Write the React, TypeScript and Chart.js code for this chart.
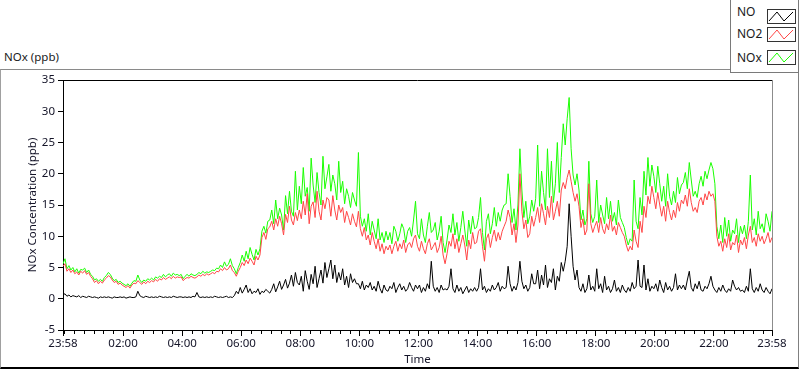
import React, { useEffect, useRef } from 'react';
import { Chart, registerables } from 'chart.js';
Chart.register(...registerables);

// sampling step of the series (minutes after 23:58)
const STEP_MIN = 4;

const xTickMinutes = [0, 122, 242, 362, 482, 602, 722, 842, 962, 1082, 1202, 1322, 1440];
const xTickLabels = ['23:58', '02:00', '04:00', '06:00', '08:00', '10:00', '12:00', '14:00', '16:00', '18:00', '20:00', '22:00', '23:58'];
const minorTickMinutes = [0, 2, 22, 42, 62, 82, 102, 142, 162, 182, 202, 222, 262, 282, 302, 322, 342, 382, 402, 422, 442, 462, 502, 522, 542, 562, 582, 622, 642, 662, 682, 702, 742, 762, 782, 802, 822, 862, 882, 902, 922, 942, 982, 1002, 1022, 1042, 1062, 1102, 1122, 1142, 1162, 1182, 1222, 1242, 1262, 1282, 1302, 1342, 1362, 1382, 1402, 1422];
const yMin = -5;
const yMax = 35;
const yStep = 5;

const seriesNames = ['NO', 'NO2', 'NOx'];

const no2: number[] = [
  5.2,5.6,4.4,4.8,4.2,4.6,4.0,4.3,3.8,4.4,4.1,4.5,3.9,4.2,3.6,
  3.2,2.6,2.9,2.4,2.8,2.5,3.0,3.3,3.7,3.5,3.0,2.6,2.8,2.3,2.5,
  2.2,2.0,1.8,2.1,1.7,2.2,2.5,2.4,2.9,2.6,2.3,2.7,2.4,2.8,2.6,
  2.9,2.7,3.1,2.8,3.2,3.0,3.4,3.1,3.3,3.5,3.2,3.6,3.3,3.5,3.4,
  3.5,2.9,3.2,3.4,3.3,3.6,3.4,3.3,3.5,3.8,3.6,3.9,3.7,4.0,3.8,
  4.0,4.2,4.0,4.4,4.3,4.8,4.5,5.0,4.6,4.8,5.4,4.5,4.2,3.6,4.4,
  5.0,5.8,5.3,6.2,5.6,6.5,6.0,5.4,6.8,6.2,7.0,9.8,10.6,9.5,11.2,
  11.5,12.4,11.0,12.8,11.6,13.2,12.0,10.2,13.5,12.2,14.8,12.6,11.8,13.8,12.5,
  14.2,12.8,15.6,13.4,16.8,12.0,14.8,15.5,13.0,17.2,14.0,12.6,15.8,14.4,16.2,
  15.8,13.2,16.5,14.2,12.6,15.0,13.8,14.6,12.2,14.0,13.0,11.8,13.6,12.4,11.5,
  14.0,11.2,10.0,11.4,9.4,10.2,8.6,10.6,9.2,8.0,9.6,7.6,8.8,7.2,8.4,
  7.8,8.6,7.2,8.4,9.2,7.6,8.8,8.0,9.4,7.4,8.6,9.0,8.2,9.6,10.2,
  8.4,7.6,9.2,8.0,7.2,8.8,9.6,7.8,8.4,9.0,7.4,8.2,10.0,7.0,5.6,
  7.2,9.2,8.4,10.4,8.0,9.6,7.4,8.8,10.2,8.6,6.2,9.4,8.0,10.6,8.8,
  9.0,10.8,11.2,8.4,6.0,9.6,10.4,8.2,9.8,11.0,9.2,10.6,9.4,10.8,11.6,
  12.4,14.2,13.0,10.2,12.0,9.0,11.8,20.0,14.0,11.2,12.6,9.8,10.4,13.2,11.6,
  13.0,14.6,12.2,15.2,13.6,11.8,14.8,13.0,16.4,12.6,14.0,15.6,13.2,17.4,18.6,
  17.6,19.4,20.6,18.8,17.0,15.6,16.8,14.8,11.4,12.8,10.2,11.0,18.4,12.0,10.6,
  11.6,12.4,10.6,13.0,11.2,10.4,12.0,11.0,13.4,10.8,11.6,10.2,12.2,11.4,10.6,
  10.0,8.6,7.6,8.4,7.8,11.0,9.2,8.2,12.4,10.6,14.8,13.0,16.4,15.2,18.0,
  16.2,14.4,17.0,15.0,13.2,14.8,12.4,15.6,13.8,12.6,14.2,13.0,15.4,14.0,15.8,
  15.2,16.6,14.8,17.6,15.4,14.0,14.6,13.8,15.6,16.2,15.0,16.8,15.8,17.2,16.4,
  16.8,15.6,10.0,8.4,9.2,7.6,9.6,8.2,10.4,7.8,9.0,8.6,10.2,7.4,9.4,
  8.6,9.8,8.0,10.2,11.6,9.0,9.8,8.4,10.4,9.2,10.0,8.8,9.6,10.6,9.0,9.8,
];

const nox: number[] = [
  5.6,6.4,4.8,5.3,4.6,5.0,4.3,4.8,4.1,4.7,4.6,4.9,4.2,4.6,3.9,
  3.6,3.0,3.2,2.8,3.1,2.8,3.4,3.7,4.2,3.9,3.3,2.9,3.1,2.6,2.8,
  2.5,2.3,2.1,2.4,2.0,2.5,2.9,2.8,3.8,3.0,2.6,3.0,2.8,3.2,3.0,
  3.3,3.0,3.5,3.3,3.6,3.4,3.9,3.5,3.8,4.0,3.6,4.1,3.8,3.9,3.7,
  3.9,3.2,3.6,3.9,3.6,4.0,3.8,3.7,3.9,4.2,4.0,4.4,4.1,4.3,4.2,
  4.4,4.6,4.5,4.9,4.8,5.4,5.0,5.9,5.2,5.5,6.4,5.3,4.8,4.0,5.0,
  5.8,7.0,6.0,7.6,6.4,8.2,7.1,6.2,7.9,7.0,8.0,10.8,11.6,10.5,12.4,
  12.6,14.2,12.0,15.8,12.8,14.5,13.4,11.0,16.5,13.6,17.2,14.0,13.2,20.4,14.2,
  18.0,15.2,21.0,16.4,17.8,14.0,22.5,18.2,15.4,20.2,17.0,15.0,22.8,17.6,19.5,
  21.5,17.2,19.8,18.4,15.8,22.0,17.0,18.8,15.2,17.6,16.4,14.6,17.0,15.8,14.8,
  23.4,13.2,11.6,12.8,10.8,13.6,10.2,12.4,11.0,9.6,12.8,9.4,10.6,9.0,10.8,
  9.4,10.6,8.8,11.6,10.8,9.2,10.4,12.0,11.2,9.0,10.8,11.4,10.0,12.6,15.6,
  10.4,9.6,12.8,10.2,9.0,11.6,13.8,10.6,11.0,12.2,9.4,10.8,13.2,9.0,7.4,
  9.4,11.8,10.6,13.6,10.2,12.2,9.2,11.4,14.0,11.0,8.4,12.6,10.4,13.2,11.2,
  11.4,13.0,16.2,10.6,7.8,12.4,13.6,10.4,12.0,14.6,11.6,13.8,12.4,14.2,15.0,
  15.2,20.0,16.4,12.2,14.4,11.0,15.0,24.0,17.4,13.0,15.6,12.0,13.2,15.8,14.0,
  16.0,24.6,14.8,20.4,17.0,14.2,24.0,16.2,22.0,15.4,18.4,25.0,17.0,22.6,28.0,
  24.6,28.8,32.2,24.0,19.8,18.2,20.0,17.4,12.6,14.2,11.8,12.8,22.0,13.6,12.2,
  13.2,19.0,12.2,15.0,13.4,12.0,16.2,12.8,15.6,12.4,13.8,11.8,15.8,13.0,12.2,
  11.4,9.8,8.6,9.6,9.2,19.0,12.4,11.2,16.2,13.4,20.4,16.6,22.6,18.0,21.4,
  19.6,17.0,21.2,18.4,15.6,18.0,14.8,20.0,16.4,15.0,17.2,15.4,19.4,16.8,18.2,
  18.6,20.2,17.6,21.8,19.0,16.4,17.2,16.2,18.4,19.6,18.0,20.4,19.2,20.6,21.8,
  20.8,18.4,11.6,9.6,11.8,9.0,13.0,10.0,12.6,9.2,11.0,10.4,12.8,9.0,11.6,
  10.4,11.8,9.6,12.4,19.8,11.0,12.8,10.2,14.0,11.2,12.0,10.6,13.6,12.4,10.8,14.0,
];

const no: number[] = [
  0.6,0.8,0.4,0.6,0.3,0.5,0.4,0.3,0.5,0.2,0.4,0.3,0.2,0.4,0.3,
  0.2,0.3,0.2,0.1,0.3,0.2,0.3,0.2,0.3,0.2,0.1,0.3,0.2,0.2,0.3,
  0.2,0.3,0.1,0.2,0.3,0.2,0.2,0.3,1.2,0.5,0.3,0.2,0.4,0.3,0.2,
  0.3,0.2,0.3,0.2,0.4,0.3,0.2,0.3,0.2,0.3,0.2,0.4,0.3,0.2,0.3,
  0.3,0.2,0.3,0.2,0.3,0.2,0.4,0.3,1.0,0.3,0.2,0.3,0.2,0.3,0.2,
  0.3,0.2,0.4,0.3,0.2,0.3,0.2,0.3,0.4,0.2,0.3,0.2,0.5,1.2,0.8,
  1.8,0.9,1.5,2.2,1.0,1.6,0.8,1.2,1.0,1.6,0.7,1.2,1.0,1.5,1.2,
  0.9,1.5,2.4,1.1,1.9,2.8,1.5,2.2,3.1,1.7,2.5,3.8,2.0,4.2,2.6,
  2.2,3.6,1.2,4.5,2.8,1.5,3.9,2.4,5.2,1.8,3.2,4.6,2.5,5.8,3.4,
  4.8,6.2,3.2,5.4,2.6,4.2,3.0,4.8,2.2,3.6,1.8,4.0,2.6,3.2,2.4,
  2.4,1.6,2.8,1.4,2.2,1.8,2.6,1.4,2.0,1.2,2.8,1.6,0.9,2.2,1.4,
  1.2,2.0,1.6,2.6,1.0,1.8,2.4,1.4,2.0,1.2,1.6,2.6,1.8,1.2,2.2,
  1.6,2.2,1.0,1.8,1.2,2.4,1.6,6.0,2.0,1.2,1.8,1.0,2.2,1.4,1.6,
  1.4,2.0,4.8,1.6,1.0,2.2,1.2,1.8,0.8,1.4,2.0,1.0,1.6,1.2,1.8,
  1.2,1.8,4.8,1.4,2.0,1.0,1.6,1.2,2.2,1.4,1.8,2.6,1.2,2.0,1.6,
  1.8,5.2,2.4,1.2,2.0,1.4,2.6,6.0,2.8,1.6,2.2,1.2,1.8,4.0,2.4,
  2.4,4.6,1.6,3.8,2.2,5.4,1.8,3.2,2.6,4.8,1.4,3.6,2.8,5.8,4.4,
  6.0,8.4,15.2,10.0,5.2,3.0,4.6,1.8,1.2,2.4,1.0,1.6,3.8,1.4,2.0,
  1.2,4.8,1.6,2.4,1.0,3.6,1.4,2.0,1.0,1.6,3.0,1.2,1.8,1.0,2.2,
  1.4,1.0,1.8,1.2,2.6,1.6,2.0,6.2,2.0,1.8,5.4,1.4,3.2,1.2,2.0,
  1.6,2.4,1.2,3.0,1.8,1.0,2.6,1.4,2.0,1.2,1.8,4.0,1.4,2.2,1.6,
  2.2,1.4,3.0,4.4,1.8,1.2,2.4,1.6,2.8,1.4,1.2,2.0,1.6,2.4,3.6,
  2.0,1.4,1.0,1.8,1.2,2.2,1.4,1.0,1.6,1.2,3.0,2.0,1.4,1.8,1.2,
  1.4,1.0,2.0,1.2,4.8,1.6,1.0,1.8,1.2,2.4,1.4,1.0,1.8,1.2,0.8,1.6,
];

const FONT = '"Noto Sans", "DejaVu Sans", sans-serif';
const TEXT = '#141428';

const toPoints = (arr: number[]) => arr.map((v, i) => ({ x: i * STEP_MIN, y: v }));

const framePlugin = {
  id: 'frame',
  afterDraw(chart: any) {
    const { ctx, chartArea } = chart;
    const xs = chart.scales.x;
    ctx.save();
    ctx.lineWidth = 1;
    ctx.strokeStyle = '#000';
    ctx.beginPath();
    ctx.moveTo(chartArea.left, chartArea.top + 0.5);
    ctx.lineTo(chartArea.right, chartArea.top + 0.5);
    ctx.stroke();
    ctx.strokeStyle = '#8c8c8c';
    ctx.beginPath();
    ctx.moveTo(chartArea.right + 0.5, chartArea.top);
    ctx.lineTo(chartArea.right + 0.5, chartArea.bottom);
    ctx.stroke();
    ctx.strokeStyle = '#000';
    ctx.beginPath();
    for (const m of minorTickMinutes) {
      const px = Math.round(xs.getPixelForValue(m)) + 0.5;
      ctx.moveTo(px, chartArea.bottom);
      ctx.lineTo(px, chartArea.bottom + 4);
    }
    ctx.stroke();
    ctx.restore();
  },
};

function LegendSwatch({ color }: { color: string }) {
  return (
    <svg width={29} height={15} style={{ display: 'block' }}>
      <rect x={0.5} y={0.5} width={28} height={14} fill="#fff" stroke="#333" strokeWidth={1} />
      <polyline points="2,12 10,3 17,12 26,3" fill="none" stroke={color} strokeWidth={1} />
    </svg>
  );
}

const legendColors = ['#000000', '#ff4646', '#1aff00'];
const legendSwatchTops = [9, 27, 50];
const legendTextTops = [4, 26, 50];

export default function App() {
  const ref = useRef<HTMLCanvasElement>(null);

  useEffect(() => {
    const ds = (i: number, arr: number[]) => ({
      label: seriesNames[i],
      data: toPoints(arr),
      borderColor: legendColors[i],
      borderWidth: 1,
      pointRadius: 0,
      tension: 0,
    });
    const chart = new Chart(ref.current as HTMLCanvasElement, {
      type: 'line',
      data: { datasets: [ds(0, no), ds(1, no2), ds(2, nox)] },
      options: {
        animation: false,
        responsive: false,
        maintainAspectRatio: false,
        layout: { padding: { top: 80, right: 28, left: 0, bottom: 0 } },
        plugins: { legend: { display: false }, tooltip: { enabled: false } },
        scales: {
          x: {
            type: 'linear',
            min: 0,
            max: 1440,
            afterFit(s: any) { s.height = 39; },
            afterBuildTicks(s: any) { s.ticks = xTickMinutes.map((v) => ({ value: v })); },
            ticks: {
              autoSkip: false,
              maxRotation: 0,
              padding: 1,
              color: TEXT,
              font: { family: FONT, size: 11.5 },
              callback: (_v: any, i: number) => xTickLabels[i],
            },
            grid: { drawOnChartArea: false, drawTicks: true, tickLength: 6, tickColor: '#000' },
            border: { color: '#000', width: 1 },
            title: { display: true, text: 'Time', color: TEXT, font: { family: FONT, size: 11.5 }, padding: { top: 0, bottom: 2 } },
          },
          y: {
            min: yMin,
            max: yMax,
            afterFit(s: any) { s.width = 63; },
            ticks: { stepSize: yStep, padding: 3, color: TEXT, font: { family: FONT, size: 11.5 } },
            grid: { drawOnChartArea: false, drawTicks: true, tickLength: 5, tickColor: '#000' },
            border: { color: '#000', width: 1 },
            title: { display: true, text: 'NOx Concentration (ppb)', color: TEXT, font: { family: FONT, size: 11.5 }, padding: { top: 26, bottom: 0 } },
          },
        },
      },
      plugins: [framePlugin],
    } as any);
    return () => chart.destroy();
  }, []);

  return (
    <div style={{ position: 'absolute', left: 0, top: 0, width: 800, height: 369, background: '#fff', overflow: 'hidden', fontFamily: FONT }}>
      <div style={{ position: 'absolute', left: 4, top: 49, fontSize: 11.5, color: '#1a1a1a', whiteSpace: 'nowrap' }}>NOx (ppb)</div>
      <div style={{ position: 'absolute', left: 0, top: 69, width: 797, height: 297, borderTop: '1px solid #8a8a8a', borderLeft: '1px solid #a0a0a0', borderBottom: '2px solid #000', borderRight: '1px solid #808080' }} />
      <canvas ref={ref} width={800} height={369} style={{ position: 'absolute', left: 0, top: 0, width: 800, height: 369 }} />
      <div style={{ position: 'absolute', left: 730, top: -1, width: 67, height: 72, background: '#fff', border: '1px solid #7a7a7a' }}>
        {seriesNames.map((n, i) => (
          <React.Fragment key={n}>
            <div style={{ position: 'absolute', left: 6, top: legendTextTops[i], fontSize: 12, color: '#1a1a1a', lineHeight: '16px' }}>{n}</div>
            <div style={{ position: 'absolute', left: 36, top: legendSwatchTops[i] }}><LegendSwatch color={legendColors[i]} /></div>
          </React.Fragment>
        ))}
      </div>
    </div>
  );
}
